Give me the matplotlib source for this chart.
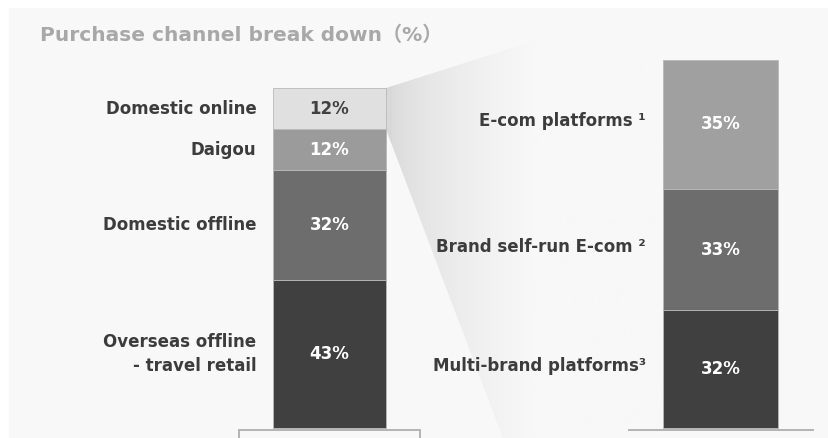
import numpy as np
import matplotlib.pyplot as plt
from matplotlib.patches import Polygon, Rectangle
from matplotlib.colors import to_rgb

# purchase channel split (%)
channels = ['Overseas offline\n- travel retail', 'Domestic offline', 'Daigou', 'Domestic online']
channel_share = [43, 32, 12, 12]
channel_colors = ['#404040', '#6d6d6d', '#9b9b9b', '#e0e0e0']
channel_text = ['white', 'white', 'white', '#404040']

# breakdown of domestic online (%)
online = ['Multi-brand platforms³', 'Brand self-run E-com ²', 'E-com platforms ¹']
online_share = [32, 33, 35]
online_colors = ['#404040', '#6d6d6d', '#a0a0a0']

W, H = 829, 438
BG = '#f8f8f8'
LABEL = '#3c3c3c'

fig = plt.figure(figsize=(W / 100, H / 100), dpi=100, facecolor='white')

# backdrop axes in pixel coordinates
bg = fig.add_axes([0, 0, 1, 1])
bg.set_xlim(0, W)
bg.set_ylim(H, 0)
bg.axis('off')
panel = Rectangle((9, 8), W - 9, H - 8, facecolor=BG, edgecolor='none')
bg.add_patch(panel)


def px_axes(x0, x1, y0, y1):
    return fig.add_axes([x0 / W, 1 - y1 / H, (x1 - x0) / W, (y1 - y0) / H])


def stacked(ax, shares, colors, width):
    bottom = 0
    bars = []
    for v, c in zip(shares, colors):
        ax.bar(0, v, width=width, bottom=bottom, color=c,
               edgecolor='#b8b8b8', linewidth=0.6, zorder=3)
        bars.append((bottom, v))
        bottom += v
    return bars


def style(ax, xlim, ylim, ticks):
    ax.set_xlim(*xlim)
    ax.set_ylim(*ylim)
    ax.patch.set_alpha(0)
    for s in ['top', 'left', 'right']:
        ax.spines[s].set_visible(False)
    ax.spines['bottom'].set_color('#b4b4b4')
    ax.spines['bottom'].set_linewidth(1.4)
    ax.set_yticks([])
    if ticks:
        ax.set_xticks(list(xlim))
        ax.tick_params(axis='x', length=6, width=1.4, color='#b4b4b4',
                       labelbottom=False, direction='out')
    else:
        ax.set_xticks([])


# left bar: 99% over 340 px, axis line sits 2 px below the bar
scale_l = 340 / sum(channel_share)
ax_l = px_axes(239, 420, 88, 430)
style(ax_l, (-90.5, 90.5), (-2 / scale_l, sum(channel_share)), True)
segs_l = stacked(ax_l, channel_share, channel_colors, 113)

# right bar: 100% over 368 px
scale_r = 368 / sum(online_share)
ax_r = px_axes(629, 813, 60, 430)
style(ax_r, (-92, 92), (-2 / scale_r, sum(online_share)), False)
segs_r = stacked(ax_r, online_share, online_colors, 115)

for (b, v), name, tc in zip(segs_l, channels, channel_text):
    ax_l.text(0, b + v / 2, f'{v}%', ha='center', va='center', color=tc,
              fontsize=12, fontweight='bold', zorder=4)
    ax_l.text(-73, b + v / 2, name, ha='right', va='center', color=LABEL,
              fontsize=12, fontweight='bold', linespacing=1.45, clip_on=False)

for (b, v), name in zip(segs_r, online):
    ax_r.text(0, b + v / 2, f'{v}%', ha='center', va='center', color='white',
              fontsize=12, fontweight='bold', zorder=4)
    ax_r.text(-75, b + v / 2 + 0.8, name, ha='right', va='center', color=LABEL,
              fontsize=12, fontweight='bold', clip_on=False)

# fading beam from the domestic online segment
fig.canvas.draw()
to_bg = bg.transData.inverted()
top_seg = segs_l[-1]
p_top = to_bg.transform(ax_l.transData.transform((56.5, top_seg[0] + top_seg[1])))
p_bot = to_bg.transform(ax_l.transData.transform((56.5, top_seg[0])))
beam = Polygon([p_top, (663, 0), (663, H), (503, H), p_bot], closed=True,
               facecolor='none', edgecolor='none')
bg.add_patch(beam)
xs = np.linspace(0, 1, 600)
fade = np.clip((xs * W - p_top[0]) / (530 - p_top[0]), 0, 1) ** 0.6
c0 = np.array(to_rgb('#d8d8d8'))
c1 = np.array(to_rgb(BG))
grad = (c0[None, :] * (1 - fade[:, None]) + c1[None, :] * fade[:, None])[None, :, :]
im = bg.imshow(grad, extent=(9, W, H, 8), aspect='auto', zorder=1)
im.set_clip_path(beam)

fig.text(40 / W, 1 - 35 / H, 'Purchase channel break down（%）',
         family=['DejaVu Sans', 'Noto Sans CJK SC'], fontsize=14.5,
         fontweight='bold', color='#a8a8a8', ha='left', va='center')

fig.savefig('out.png', dpi=100, facecolor='white')
